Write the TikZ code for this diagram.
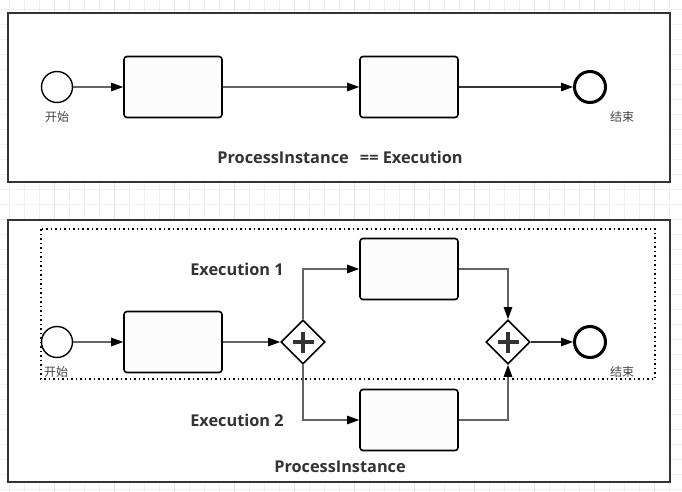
\documentclass[tikz,border=0pt]{standalone}
\usepackage{fontspec}
\setsansfont{Open Sans}
\newfontfamily\cjk{Noto Sans CJK SC}
\usetikzlibrary{arrows.meta,shapes.geometric}
\begin{document}
\begin{tikzpicture}[x=1pt, y=-1pt,
  >={Triangle[length=12pt, width=8.5pt, color=black]},
  gridline/.style={draw=GridGray, line width=0.8pt},
  frame/.style={draw=DarkGray, line width=2pt, fill=white},
  flow/.style={draw=LineGray, line width=1.2pt},
  task/.style={draw=black, line width=1.6pt, rounded corners=3pt, fill=TaskWhite,
    minimum width=98pt, minimum height=61pt, inner sep=0pt},
  startev/.style={circle, draw=black, line width=1.4pt, fill=white, minimum size=31pt, inner sep=0pt},
  endev/.style={circle, draw=black, line width=3pt, fill=white, minimum size=31pt, inner sep=0pt},
  gate/.style={diamond, draw=black, line width=1.6pt, fill=white, minimum width=44pt,
    minimum height=44pt, inner sep=0pt},
  evlabel/.style={text=LabelGray, font=\cjk\fontsize{12}{14}\selectfont, inner sep=0pt},
  title/.style={text=DarkGray, font=\sffamily\bfseries\fontsize{16.3}{19}\selectfont, inner sep=0pt}]
\definecolor{GridGray}{RGB}{240, 240, 240}
\definecolor{GridMajor}{RGB}{228, 228, 228}
\definecolor{DarkGray}{RGB}{51, 51, 51}
\definecolor{LineGray}{RGB}{100, 100, 100}
\definecolor{LabelGray}{RGB}{70, 70, 70}
\definecolor{TaskWhite}{RGB}{252, 252, 252}
\useasboundingbox (0,0) rectangle (682,492);
\fill[white] (0,0) rectangle (682,492);
% background grid
\foreach \x in {0,...,45}{
\draw[gridline] (9+15*\x, 0) -- (9+15*\x, 492);
}
\foreach \y in {0,...,32}{
\draw[gridline] (0, 9+15*\y) -- (682, 9+15*\y);
}
\foreach \x in {54,114,...,654}{
\draw[gridline, draw=GridMajor] (\x, 0) -- (\x, 492);
}
% top diagram
\draw[frame] (8,13) rectangle (670,182);
\node[startev] (start1) at (57,87) {};
\node[evlabel] at (57,117) {开始};
\node[task] (taskA) at (173,87) {};
\node[task] (taskB) at (409,87) {};
\node[endev] (end1) at (590,87) {};
\node[evlabel] at (622,117) {结束};
\draw[flow, ->] (start1) -- (taskA);
\draw[flow, ->] (taskA) -- (taskB);
\draw[flow, draw=DarkGray, ->] (taskB) -- (end1);
\node[title] at (340,157) {ProcessInstance\ \ \,== Execution};
% bottom diagram
\draw[frame] (8,220) rectangle (670,482);
\draw[black, line width=1.5pt, dash pattern=on 1.5pt off 3pt] (41,229) rectangle (655,379);
\node[startev] (start2) at (57,342) {};
\node[evlabel, anchor=west] at (44,372) {开始};
\node[task] (taskC) at (173,342) {};
\node[gate] (fork) at (303,342) {};
\node[task] (taskD) at (409,269) {};
\node[task] (taskE) at (409,420) {};
\node[gate] (join) at (508,342) {};
\node[endev] (end2) at (590,342) {};
\node[evlabel] at (622,372) {结束};
\foreach \g in {fork,join}{
\draw[DarkGray, line width=3.5pt] (\g.center) ++(-10.5,0) -- ++(21,0);
\draw[DarkGray, line width=3.5pt] (\g.center) ++(0,-10.5) -- ++(0,21);
}
\draw[flow, ->] (start2) -- (taskC);
\draw[flow, ->] (taskC) -- (fork);
\draw[flow, ->] (fork) |- (taskD);
\draw[flow, ->] (fork) |- (taskE);
\draw[flow, ->] (taskD) -| (join);
\draw[flow, ->] (taskE) -| (join);
\draw[flow, draw=DarkGray, ->] (join) -- (end2);
\node[title] at (237,269) {Execution 1};
\node[title] at (237,420) {Execution 2};
\node[title] at (340,467) {ProcessInstance};
\end{tikzpicture}
\end{document}
